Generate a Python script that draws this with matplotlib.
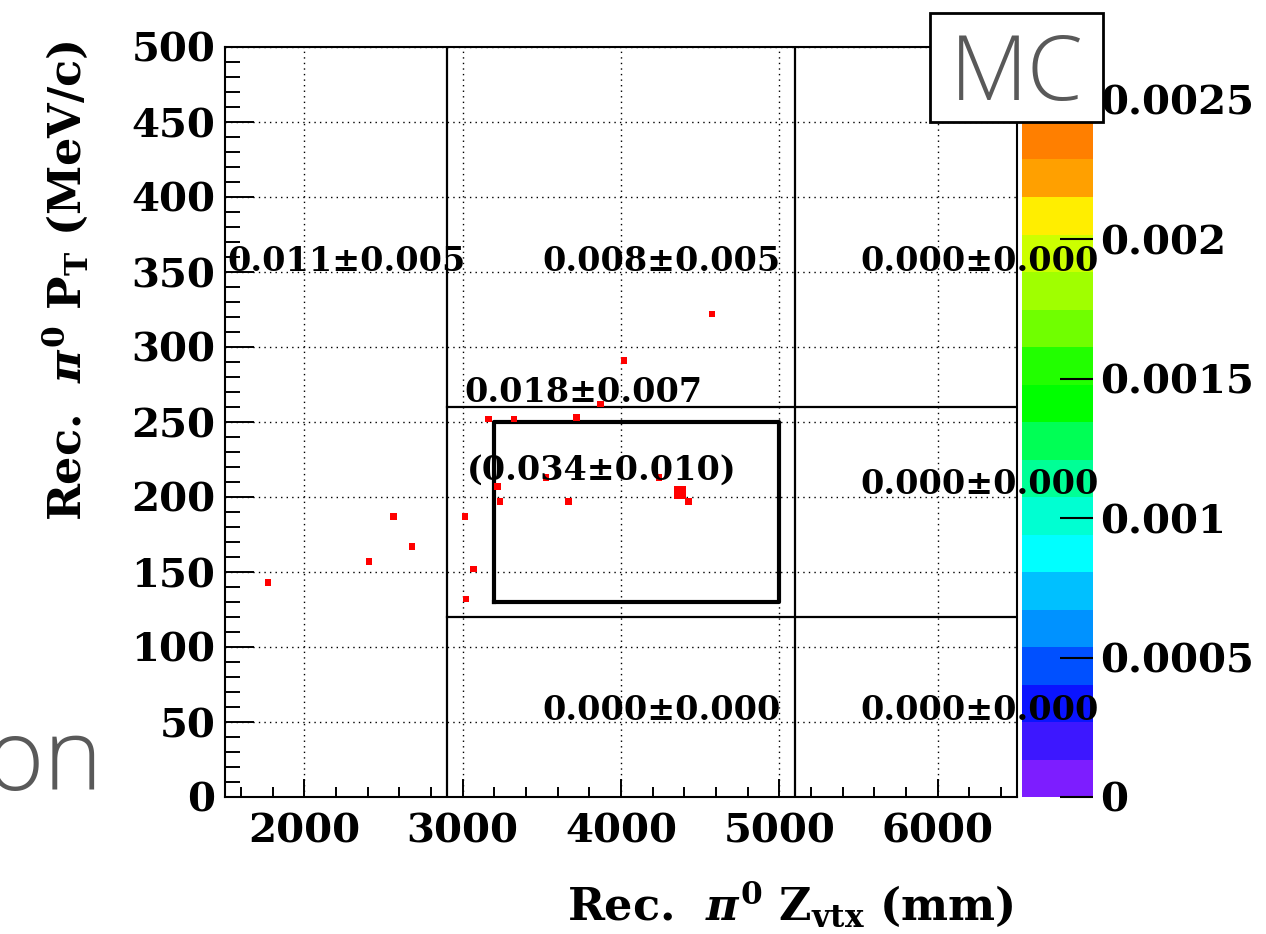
import matplotlib
matplotlib.use('Agg')
import matplotlib.pyplot as plt
import numpy as np
from matplotlib.colors import ListedColormap, BoundaryNorm
from matplotlib.cm import ScalarMappable
from matplotlib.patches import Rectangle
from matplotlib.ticker import MultipleLocator, FixedLocator

plt.rcParams['mathtext.fontset'] = 'custom'
plt.rcParams['mathtext.rm'] = 'DejaVu Serif:bold'
plt.rcParams['mathtext.it'] = 'DejaVu Serif:bold:italic'
plt.rcParams['mathtext.bf'] = 'DejaVu Serif:bold'

# reconstructed pi0 vertex (mm) and pt (MeV/c) of the MC events
zvtx = [1770, 2410, 2565, 2680, 3015, 3020, 3070, 3165, 3325, 3720,
        3220, 3235, 3525, 3670, 4240, 4375, 4425, 4020, 4575, 3870]
pt = [143, 157, 187, 167, 187, 132, 152, 252, 252, 253,
      207, 197, 213, 197, 213, 203, 197, 291, 322, 262]
entries = [1, 1, 1, 1, 1, 1, 1, 1, 1, 1,
           1, 1, 1, 1, 1, 2, 1, 1, 1, 1]

# region yields
region_text = ['0.011\u00b10.005', '0.008\u00b10.005', '0.000\u00b10.000',
               '0.018\u00b10.007', '(0.034\u00b10.010)', '0.000\u00b10.000',
               '0.000\u00b10.000', '0.000\u00b10.000']
region_x = [2270, 4255, 6265, 3760, 3875, 6265, 4255, 6265]
region_y = [357, 357, 357, 270, 218, 208, 58, 58]

# cut boundaries
z_cuts = [2900, 5100]
pt_cuts = [120, 260]
sig_z = [3200, 5000]
sig_pt = [130, 250]

# colour palette (20 contours)
zmax = 0.00269
palette = ['#7d1dff', '#3d17ff', '#0a14ff', '#0050ff', '#0092ff',
           '#00c0ff', '#00ffff', '#00ffd2', '#00ff96', '#00ff55',
           '#00ff00', '#22ff00', '#70ff00', '#a0ff00', '#ccff00',
           '#ffee00', '#ffa000', '#ff7f00', '#ff4a00', '#ff1000']
cb_ticks = [0, 0.0005, 0.001, 0.0015, 0.002, 0.0025]
cb_labels = ['0', '0.0005', '0.001', '0.0015', '0.002', '0.0025']

W, H = 1266, 934
fig = plt.figure(figsize=(W/100, H/100), dpi=100)
ax = fig.add_axes([225/W, 1-797/H, 792/W, 750/H])
cax = fig.add_axes([1022/W, 1-797/H, 71/W, 750/H])
ax.set_zorder(3)
ax.patch.set_alpha(0)

serif = dict(family='DejaVu Serif', weight='bold')

ax.set_xlim(1500, 6500)
ax.set_ylim(0, 500)
ax.xaxis.set_major_locator(MultipleLocator(1000))
ax.xaxis.set_minor_locator(MultipleLocator(200))
ax.yaxis.set_major_locator(MultipleLocator(50))
ax.yaxis.set_minor_locator(MultipleLocator(10))
ax.tick_params(which='both', direction='in', width=1.4, colors='k')
ax.tick_params(axis='y', which='major', length=21, pad=7, labelsize=29)
ax.tick_params(axis='y', which='minor', length=11)
ax.tick_params(axis='x', which='major', length=13, pad=11, labelsize=29)
ax.tick_params(axis='x', which='minor', length=7)
for lab in ax.get_xticklabels() + ax.get_yticklabels():
    lab.set_fontfamily('DejaVu Serif')
    lab.set_fontweight('bold')
for sp in ax.spines.values():
    sp.set_linewidth(1.5)
ax.grid(True, which='major', color='k', linestyle=(0, (1, 3)), linewidth=1.0)

# cut lines
for zc in z_cuts:
    ax.plot([zc, zc], [0, 500], 'k-', lw=1.6)
for pc in pt_cuts:
    ax.plot([z_cuts[0], 6500], [pc, pc], 'k-', lw=1.6)
ax.plot([sig_z[0], sig_z[1], sig_z[1], sig_z[0], sig_z[0]],
        [sig_pt[0], sig_pt[0], sig_pt[1], sig_pt[1], sig_pt[0]], 'k-', lw=3)

# events
sizes = 22 * np.array(entries) ** 1.8
ax.scatter(zvtx, pt, marker='s', s=sizes, c='red', linewidths=0, zorder=4)

for s, x, y in zip(region_text, region_x, region_y):
    ax.text(x, y, s, ha='center', va='center', fontsize=24, clip_on=False,
            zorder=5, **serif)

# colour bar
levels = np.linspace(0, zmax, len(palette) + 1)
sm = ScalarMappable(norm=BoundaryNorm(levels, len(palette)), cmap=ListedColormap(palette))
cb = fig.colorbar(sm, cax=cax, ticks=cb_ticks)
cb.outline.set_visible(False)
cb.ax.set_yticklabels(cb_labels)
cb.ax.yaxis.set_minor_locator(FixedLocator([]))
cb.ax.tick_params(direction='in', length=24, width=1.5, pad=5, labelsize=29)
for lab in cb.ax.get_yticklabels():
    lab.set_fontfamily('DejaVu Serif')
    lab.set_fontweight('bold')

# axis titles
fig.text(1013/W, 1-920/H, r'Rec.  $\pi^{0}$ Z$_{\mathrm{vtx}}$ (mm)', ha='right',
         va='baseline', fontsize=32, **serif)
fig.text(65/W, 1-40/H, r'Rec.  $\pi^{0}$ P$_{\mathrm{T}}$ (MeV/c)', rotation=90,
         ha='center', va='top', fontsize=32, **serif)

# slide overlays
fig.text(103/W, 1-790/H, 'on', ha='right', va='baseline', fontsize=72,
         color='#595959', family='Open Sans', weight='light')
fig.add_artist(Rectangle((930/W, 1-122/H), 173/W, 109/H, transform=fig.transFigure,
                         fc='white', ec='black', lw=2, zorder=10))
fig.text(1017/W, 1-100/H, 'MC', ha='center', va='baseline', fontsize=65,
         color='#595959', family='Open Sans', weight='light', zorder=11)

fig.savefig('out.png', dpi=100)
